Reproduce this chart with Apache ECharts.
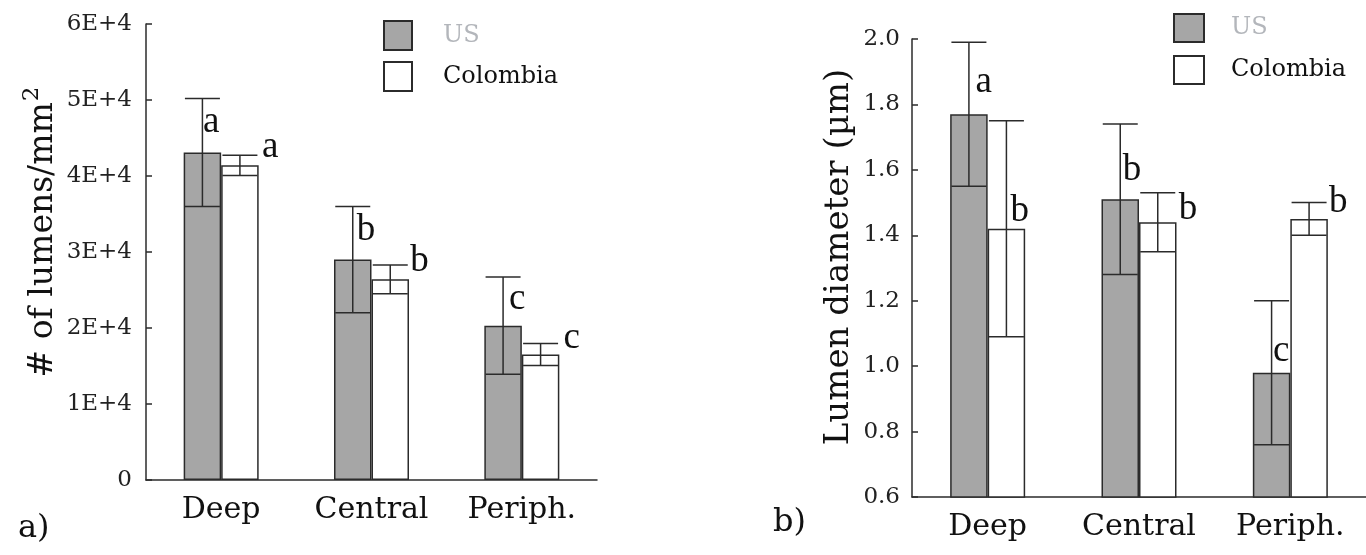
<!DOCTYPE html>
<html>
<head>
<meta charset="utf-8">
<script src="https://cdn.jsdelivr.net/npm/echarts@6/dist/echarts.min.js"></script>
<style>html,body{margin:0;padding:0;background:#fff}#c{width:1366px;height:555px}</style>
</head>
<body>
<div id="c"></div>
<script>
// ---- data ----
const categories = ['Deep', 'Central', 'Periph.'];
const seriesNames = ['US', 'Colombia'];

// panel a) number of lumens / mm^2
const aTicks = [0, 10000, 20000, 30000, 40000, 50000, 60000];
const aUSMean = [43100, 29000, 20300];
const aUSErr = [7100, 7000, 6400];
const aColMean = [41400, 26400, 16500];
const aColErr = [1330, 1900, 1450];
const aUSLetters = ['a', 'b', 'c'];
const aColLetters = ['a', 'b', 'c'];
const aUSLetterY = [46600, 32900, 23300];
const aColLetterY = [43200, 28800, 18100];

// panel b) lumen diameter (µm)
const bTicks = [0.6, 0.8, 1.0, 1.2, 1.4, 1.6, 1.8, 2.0];
const bUSMean = [1.77, 1.51, 0.98];
const bUSErr = [0.22, 0.23, 0.22];
const bColMean = [1.42, 1.44, 1.45];
const bColErr = [0.33, 0.09, 0.05];
const bUSLetters = ['a', 'b', 'c'];
const bColLetters = ['b', 'b', 'b'];
const bUSLetterY = [1.856, 1.60, 1.034];
const bColLetterY = [1.474, 1.48, 1.502];

// ---- layout / style (not data) ----
const BAR_W = 37.5, CAP_W = 35;
const aUSLetterDx = [-10, -5.5, -4.5];
const aColLetterDx = [49, 48, 50];
const bUSLetterDx = [-4, -7, -9];
const bColLetterDx = [32, 49, 48];
const SERIF = 'DejaVu Serif';
const LSERIF = 'Liberation Serif';
const INK = '#2b2b2b';

function errData(mean, err) { return mean.map((m, i) => [i, m - err[i], m + err[i]]); }
function errSeries(idx, mean, err, sign) {
  return {
    type: 'custom', xAxisIndex: idx, yAxisIndex: idx, z: 5, silent: true,
    data: errData(mean, err),
    renderItem: function (params, api) {
      const lo = api.coord([api.value(0), api.value(1)]);
      const hi = api.coord([api.value(0), api.value(2)]);
      const x = lo[0] + sign * BAR_W / 2;
      const st = { stroke: INK, lineWidth: 1.5 };
      return { type: 'group', children: [
        { type: 'line', shape: { x1: x, y1: hi[1], x2: x, y2: lo[1] }, style: st },
        { type: 'line', shape: { x1: x - CAP_W / 2, y1: hi[1], x2: x + CAP_W / 2, y2: hi[1] }, style: st },
        { type: 'line', shape: { x1: x - CAP_W / 2, y1: lo[1], x2: x + CAP_W / 2, y2: lo[1] }, style: st }
      ]};
    }
  };
}
function letterSeries(idx, letters, ys, dxs) {
  return {
    type: 'custom', xAxisIndex: idx, yAxisIndex: idx, z: 6, silent: true,
    data: ys.map((y, i) => [i, y]),
    renderItem: function (params, api) {
      const p = api.coord([api.value(0), api.value(1)]);
      const t = letters[params.dataIndex];
      const dy = t === 'b' ? 0 : -4;
      return { type: 'text', x: p[0] + dxs[params.dataIndex], y: p[1] + dy,
        style: { text: t, fill: '#111', font: '37px "' + LSERIF + '"', align: 'center', verticalAlign: 'middle' } };
    }
  };
}
function barSeries(idx, name, vals, color) {
  return { type: 'bar', name: name, xAxisIndex: idx, yAxisIndex: idx, data: vals,
    barWidth: BAR_W, barGap: '0%', z: 2,
    itemStyle: { color: color, borderColor: INK, borderWidth: 1.5 } };
}
function catAxis(idx) {
  return { type: 'category', gridIndex: idx, data: categories,
    axisLine: { lineStyle: { color: INK, width: 1.5 } }, axisTick: { show: false },
    axisLabel: { fontFamily: SERIF, fontSize: 30, color: '#111', margin: 15 } };
}
function legend(left, top, w, h, gap, pad) {
  return { left: left, top: top, orient: 'vertical', itemWidth: w, itemHeight: h, itemGap: gap, icon: 'rect',
    padding: 0,
    itemStyle: { borderColor: INK, borderWidth: 2 },
    textStyle: { fontFamily: SERIF, fontSize: 24, lineHeight: 26, padding: [0, 0, 0, pad] },
    data: [ { name: seriesNames[0], textStyle: { color: '#b3b6bb' } },
            { name: seriesNames[1], textStyle: { color: '#111' } } ] };
}

const option = {
  animation: false,
  backgroundColor: '#fff',
  title: [
    { text: 'a)', left: 18, top: 513, padding: 0, textStyle: { fontFamily: SERIF, fontSize: 32, fontWeight: 'normal', color: '#111' } },
    { text: 'b)', left: 773, top: 507, padding: 0, textStyle: { fontFamily: SERIF, fontSize: 32, fontWeight: 'normal', color: '#111' } }
  ],
  legend: [ legend(383, 20, 28, 29, 10, 26), legend(1173, 13, 30, 28, 12, 22) ],
  grid: [
    { left: 146, top: 24, width: 451, bottom: 75, containLabel: false },
    { left: 912, top: 39, width: 456, bottom: 58, containLabel: false }
  ],
  xAxis: [ catAxis(0), catAxis(1) ],
  yAxis: [
    { type: 'value', gridIndex: 0, min: aTicks[0], max: aTicks[aTicks.length - 1], interval: aTicks[1] - aTicks[0],
      splitLine: { show: false },
      axisLine: { show: true, lineStyle: { color: INK, width: 1.5 } },
      axisTick: { show: true, inside: true, length: 6, lineStyle: { color: INK, width: 1.5 } },
      axisLabel: { fontFamily: SERIF, fontSize: 23, color: '#222', margin: 14,
        formatter: v => v === 0 ? '0' : (v / 10000) + 'E+4' },
      name: '{m|# of lumens/mm}{sup|2}', nameLocation: 'middle', nameGap: 86,
      nameTextStyle: { fontFamily: SERIF, fontSize: 33, color: '#111', padding: [0, 0, 0, 40],
        rich: {
          m: { fontFamily: SERIF, fontSize: 33, color: '#111', verticalAlign: 'bottom' },
          sup: { fontFamily: SERIF, fontSize: 23, color: '#111', verticalAlign: 'bottom', padding: [0, 0, 16, 1] }
        } } },
    { type: 'value', gridIndex: 1, min: bTicks[0], max: bTicks[bTicks.length - 1], interval: 0.2,
      splitLine: { show: false },
      axisLine: { show: true, lineStyle: { color: INK, width: 1.5 } },
      axisTick: { show: true, inside: true, length: 6, lineStyle: { color: INK, width: 1.5 } },
      axisLabel: { fontFamily: SERIF, fontSize: 23, color: '#222', margin: 12,
        formatter: v => v.toFixed(1) },
      name: 'Lumen diameter (µm)', nameLocation: 'middle', nameGap: 56,
      nameTextStyle: { fontFamily: SERIF, fontSize: 34, color: '#111', padding: [0, 0, 0, 22] } }
  ],
  series: [
    barSeries(0, seriesNames[0], aUSMean, '#a6a6a6'),
    barSeries(0, seriesNames[1], aColMean, '#ffffff'),
    barSeries(1, seriesNames[0], bUSMean, '#a6a6a6'),
    barSeries(1, seriesNames[1], bColMean, '#ffffff'),
    errSeries(0, aUSMean, aUSErr, -1),
    errSeries(0, aColMean, aColErr, 1),
    errSeries(1, bUSMean, bUSErr, -1),
    errSeries(1, bColMean, bColErr, 1),
    letterSeries(0, aUSLetters, aUSLetterY, aUSLetterDx),
    letterSeries(0, aColLetters, aColLetterY, aColLetterDx),
    letterSeries(1, bUSLetters, bUSLetterY, bUSLetterDx),
    letterSeries(1, bColLetters, bColLetterY, bColLetterDx)
  ]
};
const chart = echarts.init(document.getElementById('c'), null, { renderer: 'canvas' });
chart.setOption(option);
</script>
</body>
</html>
